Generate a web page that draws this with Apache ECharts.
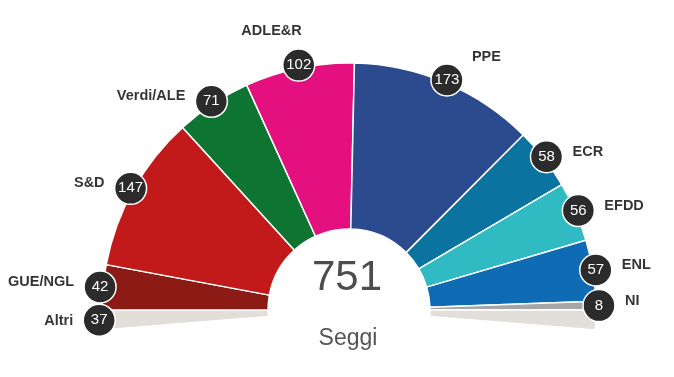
<!DOCTYPE html>
<html><head><meta charset="utf-8">
<script src="https://cdn.jsdelivr.net/npm/echarts@6/dist/echarts.min.js"></script>
<style>html,body{margin:0;padding:0;background:#fff}#c{width:674px;height:377px}</style>
</head><body><div id="c"></div>
<script>
// ---- data ----
const parties = ['GUE/NGL','S&D','Verdi/ALE','ADLE&R','PPE','ECR','EFDD','ENL','NI'];
const seats = [42,147,71,102,173,58,56,57,8];
const colors = ['#8c1a15','#c21a1a','#0e7432','#e4107f','#2c4a8e','#0a73a0','#2fbbc1','#0f6cb4','#a6a6a6'];
const otherName = 'Altri';
const otherSeats = 37;
const otherColor = '#e2dfdb';
const centerLabel = 'Seggi';

// ---- layout ----
const CX = 349, CY = 310, R_IN = 81, R_OUT = 247, R_BADGE = 250;
const arc = seats.reduce((a,b)=>a+b,0);        // seats on the 180° arc
const total = arc + otherSeats;
const halfOther = otherSeats / 2;
const full = 2 * arc;                            // value for a full 360°
const startAngle = 180 + halfOther / arc * 180;

const pieData = [{name: otherName, value: halfOther, itemStyle:{color: otherColor}}];
parties.forEach((p,i)=>pieData.push({name:p, value:seats[i], itemStyle:{color:colors[i]}}));
pieData.push({name: otherName + ' ', value: halfOther, itemStyle:{color: otherColor}});
pieData.push({name: '', value: full - total, itemStyle:{color:'rgba(0,0,0,0)', borderWidth:0}, emphasis:{disabled:true}});

// mid positions (in seat units along the polar angle axis)
const mids = [halfOther/2];
const names = [otherName];
const vals = [otherSeats];
let cum = halfOther;
seats.forEach((s,i)=>{ mids.push(cum + s/2); names.push(parties[i]); vals.push(s); cum += s; });

function nameLabel(mid){
  const a = (mid - halfOther) / arc * 180; // degrees from the left horizontal
  if (a < 0) return {position:'left', distance:10, offset:[0,1]};
  if (a < 70) return {position:'left', distance:10, offset:[0,-5]};
  if (a < 90) return {position:'top', align:'right', distance:11, offset:[3,0]};
  if (a < 120) return {position:'right', distance:9, offset:[0,-23]};
  return {position:'right', distance:10, offset:[0,-5]};
}

const badgeData = mids.map((m,i)=>({value:[1, m], num: vals[i]}));
const nameData = mids.map((m,i)=>({value:[1, m], name: names[i], label: nameLabel(m)}));

const chart = echarts.init(document.getElementById('c'), null, {renderer:'canvas'});
chart.setOption({
  animation:false,
  backgroundColor:'#fff',
  polar:{center:[CX, CY], radius:R_BADGE},
  angleAxis:{type:'value', min:0, max:full, startAngle:startAngle, clockwise:true, show:false},
  radiusAxis:{type:'value', min:0, max:1, show:false},
  series:[
    {
      type:'pie', center:[CX, CY], radius:[R_IN, R_OUT], startAngle:startAngle,
      clockwise:true, silent:true, avoidLabelOverlap:false,
      label:{show:false}, labelLine:{show:false},
      itemStyle:{borderColor:'#fff', borderWidth:1.5},
      data:pieData, z:1
    },
    {
      type:'scatter', coordinateSystem:'polar', symbol:'circle', symbolSize:32, silent:true,
      itemStyle:{color:'#2b2b2b', borderColor:'#fff', borderWidth:1.5, opacity:1},
      label:{show:true, position:'inside', color:'#fff', fontSize:15,
        fontFamily:'Liberation Sans, Arial, sans-serif',
        formatter:(p)=>String(p.data.num)},
      data:badgeData, z:3
    },
    {
      type:'scatter', coordinateSystem:'polar', symbol:'circle', symbolSize:32, silent:true,
      itemStyle:{color:'rgba(0,0,0,0)'},
      label:{show:true, color:'#000', fontSize:14.5, fontWeight:'bold',
        fontFamily:'Liberation Sans, Arial, sans-serif',
        formatter:(p)=>p.data.name},
      data:nameData, z:4
    }
  ],
  graphic:[
    {type:'text', x:347, y:278, style:{text:String(total), fill:'#4d4d4d', font:'42px "Liberation Sans", Arial, sans-serif', textAlign:'center', textVerticalAlign:'middle'}, z:10},
    {type:'text', x:348, y:339, style:{text:centerLabel, fill:'#555', font:'23px "Liberation Sans", Arial, sans-serif', textAlign:'center', textVerticalAlign:'middle'}, z:10}
  ]
});
</script></body></html>
